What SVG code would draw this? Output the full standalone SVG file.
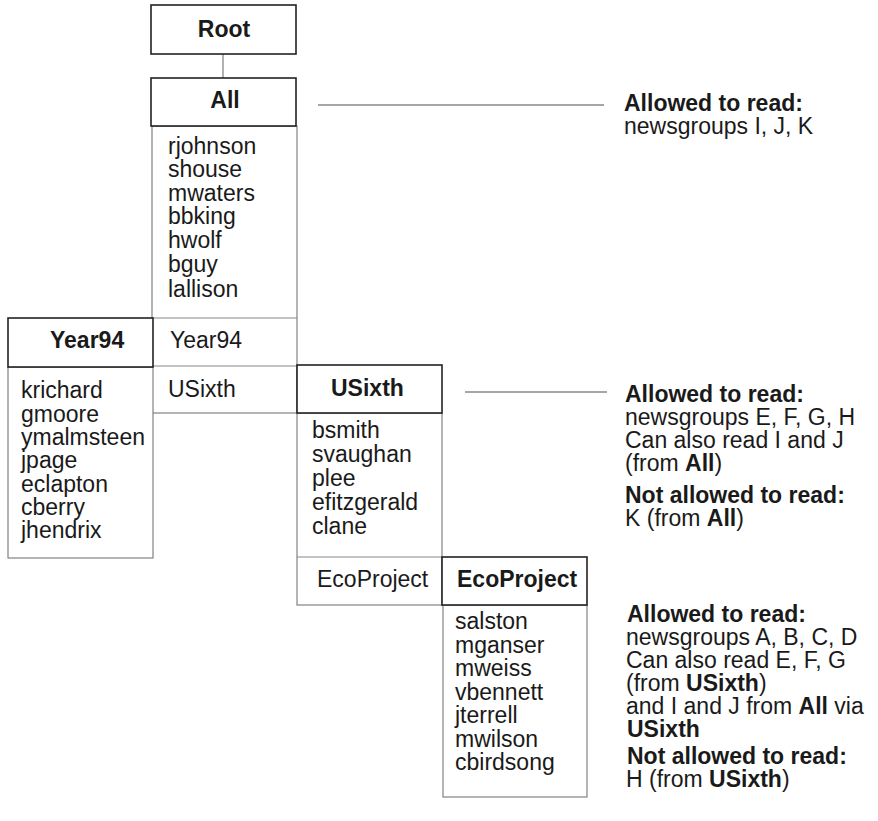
<svg xmlns="http://www.w3.org/2000/svg" width="878" height="821" viewBox="0 0 878 821">
<style>
text{font-family:"Liberation Sans",Arial,Helvetica,sans-serif;font-size:23px;fill:#1a1a1a}
.b{font-weight:bold}
.hd{fill:#fff;stroke:#222;stroke-width:1.6}
.ls{fill:#fff;stroke:#777;stroke-width:1.1}
.sep{stroke:#888;stroke-width:1.1}
.con{stroke:#888;stroke-width:1.3;fill:none}
</style>
<rect width="878" height="821" fill="#fff"/>
<g id="connectors">
<line class="con" x1="223" y1="54" x2="223" y2="78"/>
<line class="con" x1="318" y1="105" x2="604" y2="105"/>
<line class="con" x1="465" y1="392" x2="607" y2="392"/>
</g>
<g id="root">
<rect class="hd" x="151" y="5" width="145" height="49"/>
<text class="b" x="224" y="37" text-anchor="middle">Root</text>
</g>
<g id="all">
<rect class="ls" x="152" y="126" width="145" height="287"/>
<line class="sep" x1="152" y1="318" x2="297" y2="318"/>
<line class="sep" x1="152" y1="366" x2="297" y2="366"/>
<rect class="hd" x="151" y="78" width="145" height="48"/>
<text class="b" x="225" y="108" text-anchor="middle">All</text>
<text x="168" y="154">rjohnson</text>
<text x="168" y="177">shouse</text>
<text x="168" y="201">mwaters</text>
<text x="168" y="224">bbking</text>
<text x="168" y="248">hwolf</text>
<text x="168" y="272">bguy</text>
<text x="168" y="297">lallison</text>
<text x="170" y="348">Year94</text>
<text x="168" y="397">USixth</text>
</g>
<g id="year94">
<rect class="ls" x="8" y="367" width="145" height="191"/>
<rect class="hd" x="8" y="318" width="145" height="49"/>
<text class="b" x="50" y="348">Year94</text>
<text x="21" y="398">krichard</text>
<text x="21" y="421.5">gmoore</text>
<text x="21" y="445">ymalmsteen</text>
<text x="21" y="468">jpage</text>
<text x="21" y="491.5">eclapton</text>
<text x="21" y="515">cberry</text>
<text x="21" y="538">jhendrix</text>
</g>
<g id="usixth">
<rect class="ls" x="297" y="413" width="145" height="192"/>
<line class="sep" x1="297" y1="557" x2="442" y2="557"/>
<rect class="hd" x="297" y="365" width="145" height="48"/>
<text class="b" x="331" y="396">USixth</text>
<text x="312" y="438">bsmith</text>
<text x="312" y="462">svaughan</text>
<text x="312" y="486">plee</text>
<text x="312" y="510">efitzgerald</text>
<text x="312" y="534">clane</text>
<text x="317" y="587">EcoProject</text>
</g>
<g id="ecoproject">
<rect class="ls" x="443" y="605" width="144" height="192"/>
<rect class="hd" x="442" y="557" width="145" height="48"/>
<text class="b" x="457" y="587">EcoProject</text>
<text x="455" y="629">salston</text>
<text x="455" y="653">mganser</text>
<text x="455" y="676">mweiss</text>
<text x="455" y="700">vbennett</text>
<text x="455" y="723">jterrell</text>
<text x="455" y="747">mwilson</text>
<text x="455" y="770">cbirdsong</text>
</g>
<g id="note-all">
<text class="b" x="624" y="111">Allowed to read:</text>
<text x="624" y="134">newsgroups I, J, K</text>
</g>
<g id="note-usixth">
<text class="b" x="625" y="402">Allowed to read:</text>
<text x="625" y="425">newsgroups E, F, G, H</text>
<text x="625" y="448">Can also read I and J</text>
<text x="625" y="471">(from <tspan class="b">All</tspan>)</text>
<text class="b" x="625" y="503">Not allowed to read:</text>
<text x="625" y="526">K (from <tspan class="b">All</tspan>)</text>
</g>
<g id="note-ecoproject">
<text class="b" x="627" y="622">Allowed to read:</text>
<text x="626" y="645">newsgroups A, B, C, D</text>
<text x="626" y="668">Can also read E, F, G</text>
<text x="626" y="691">(from <tspan class="b">USixth</tspan>)</text>
<text x="626" y="714">and I and J from <tspan class="b">All</tspan> via</text>
<text class="b" x="627" y="737">USixth</text>
<text class="b" x="627" y="764">Not allowed to read:</text>
<text x="626" y="787">H (from <tspan class="b">USixth</tspan>)</text>
</g>
</svg>
